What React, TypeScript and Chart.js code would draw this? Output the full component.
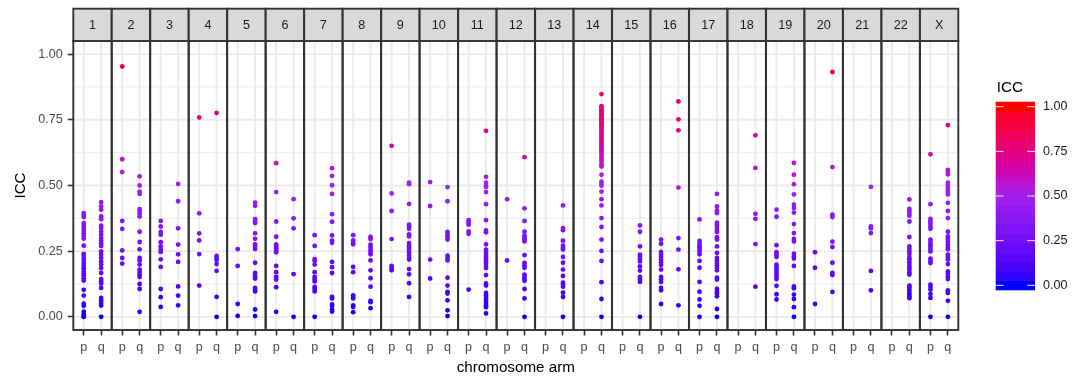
import React, { useEffect, useRef } from 'react';
import { Chart, registerables } from 'chart.js';

Chart.register(...registerables);

// ---------------- DATA ----------------
const chromosomes = ['1','2','3','4','5','6','7','8','9','10','11','12','13','14','15','16','17','18','19','20','21','22','X'];
const armLabels = ['p', 'q'];
const yTicks = [0, 0.25, 0.5, 0.75, 1];
const yMinorTicks = [0.125, 0.375, 0.625, 0.875];
const legendTicks = [0, 0.25, 0.5, 0.75, 1];

const icc_1p = [0.395, 0.388, 0.38, 0.357, 0.348, 0.338, 0.328, 0.318, 0.308, 0.298, 0.271, 0.24, 0.232, 0.222, 0.213, 0.203, 0.194, 0.185, 0.175, 0.166, 0.157, 0.147, 0.138, 0.103, 0.081, 0.05, 0.042, 0.02, 0.01, 0.0, 0.0];
const icc_1q = [0.437, 0.42, 0.408, 0.382, 0.372, 0.347, 0.338, 0.325, 0.313, 0.3, 0.29, 0.28, 0.27, 0.249, 0.237, 0.224, 0.211, 0.199, 0.186, 0.167, 0.144, 0.135, 0.127, 0.11, 0.072, 0.063, 0.053, 0.043, 0.0];
const icc_2p = [0.953, 0.6, 0.551, 0.365, 0.335, 0.253, 0.224, 0.203];
const icc_2q = [0.535, 0.5, 0.477, 0.468, 0.41, 0.401, 0.392, 0.382, 0.324, 0.285, 0.257, 0.224, 0.215, 0.199, 0.18, 0.171, 0.161, 0.152, 0.125, 0.106, 0.019];
const icc_3p = [0.365, 0.344, 0.323, 0.313, 0.284, 0.268, 0.256, 0.247, 0.219, 0.19, 0.106, 0.075, 0.038];
const icc_3q = [0.506, 0.44, 0.337, 0.275, 0.238, 0.209, 0.116, 0.081, 0.044];
const icc_4p = [0.759, 0.394, 0.318, 0.291, 0.239, 0.119];
const icc_4q = [0.776, 0.232, 0.224, 0.216, 0.201, 0.175, 0.076, 0.0];
const icc_5p = [0.258, 0.194, 0.049, 0.004];
const icc_5q = [0.435, 0.423, 0.372, 0.363, 0.357, 0.318, 0.297, 0.276, 0.268, 0.258, 0.206, 0.167, 0.159, 0.152, 0.146, 0.11, 0.104, 0.097, 0.028, 0.003];
const icc_6p = [0.585, 0.475, 0.363, 0.305, 0.276, 0.268, 0.261, 0.253, 0.246, 0.194, 0.17, 0.152, 0.142, 0.113, 0.019];
const icc_6q = [0.448, 0.375, 0.337, 0.163, 0.0];
const icc_7p = [0.311, 0.27, 0.22, 0.214, 0.199, 0.17, 0.152, 0.144, 0.135, 0.114, 0.106, 0.097, 0.0];
const icc_7q = [0.566, 0.537, 0.501, 0.468, 0.391, 0.362, 0.31, 0.29, 0.282, 0.209, 0.189, 0.167, 0.076, 0.07, 0.047, 0.041, 0.028, 0.02];
const icc_8p = [0.311, 0.291, 0.282, 0.276, 0.19, 0.17, 0.082, 0.076, 0.07, 0.044, 0.038, 0.018];
const icc_8q = [0.304, 0.296, 0.275, 0.266, 0.256, 0.247, 0.238, 0.215, 0.177, 0.147, 0.115, 0.061, 0.056, 0.033];
const icc_9p = [0.651, 0.47, 0.403, 0.296, 0.194, 0.185, 0.177];
const icc_9q = [0.511, 0.505, 0.43, 0.351, 0.344, 0.335, 0.314, 0.306, 0.281, 0.272, 0.266, 0.258, 0.251, 0.243, 0.234, 0.225, 0.218, 0.182, 0.162, 0.128, 0.076];
const icc_10p = [0.513, 0.422, 0.218, 0.146];
const icc_10q = [0.494, 0.44, 0.323, 0.315, 0.306, 0.294, 0.233, 0.224, 0.215, 0.149, 0.119, 0.095, 0.089, 0.063, 0.025, 0.003];
const icc_11p = [0.368, 0.359, 0.351, 0.325, 0.316, 0.104];
const icc_11q = [0.708, 0.533, 0.511, 0.5, 0.494, 0.475, 0.429, 0.368, 0.329, 0.322, 0.276, 0.256, 0.247, 0.238, 0.23, 0.222, 0.214, 0.205, 0.195, 0.186, 0.159, 0.127, 0.119, 0.091, 0.081, 0.072, 0.063, 0.053, 0.044, 0.037, 0.013];
const icc_12p = [0.448, 0.215];
const icc_12q = [0.608, 0.413, 0.365, 0.324, 0.309, 0.303, 0.294, 0.287, 0.235, 0.205, 0.195, 0.187, 0.161, 0.152, 0.144, 0.137, 0.106, 0.07, 0.0];
const icc_13p: number[] = [];
const icc_13q = [0.424, 0.338, 0.33, 0.29, 0.271, 0.262, 0.256, 0.228, 0.206, 0.18, 0.156, 0.13, 0.123, 0.115, 0.092, 0.076, 0.0];
const icc_14p: number[] = [];
const icc_14q = [0.848, 0.802, 0.797, 0.791, 0.786, 0.781, 0.776, 0.771, 0.766, 0.761, 0.756, 0.751, 0.746, 0.741, 0.736, 0.731, 0.726, 0.721, 0.714, 0.706, 0.698, 0.69, 0.683, 0.676, 0.668, 0.66, 0.652, 0.645, 0.637, 0.63, 0.622, 0.614, 0.605, 0.598, 0.59, 0.58, 0.572, 0.541, 0.515, 0.506, 0.499, 0.477, 0.448, 0.424, 0.376, 0.342, 0.294, 0.251, 0.213, 0.132, 0.068, 0.0];
const icc_15p: number[] = [];
const icc_15q = [0.348, 0.324, 0.268, 0.237, 0.228, 0.22, 0.211, 0.192, 0.176, 0.152, 0.142, 0.133, 0.0];
const icc_16p = [0.294, 0.278, 0.247, 0.237, 0.228, 0.218, 0.208, 0.197, 0.18, 0.152, 0.142, 0.133, 0.11, 0.101, 0.049];
const icc_16q = [0.82, 0.752, 0.71, 0.492, 0.3, 0.256, 0.181, 0.044];
const icc_17p = [0.371, 0.289, 0.281, 0.272, 0.265, 0.256, 0.248, 0.238, 0.213, 0.187, 0.133, 0.096, 0.066, 0.042, 0.0];
const icc_17q = [0.468, 0.42, 0.405, 0.395, 0.359, 0.351, 0.342, 0.332, 0.323, 0.303, 0.294, 0.268, 0.243, 0.224, 0.215, 0.205, 0.196, 0.187, 0.177, 0.149, 0.142, 0.106, 0.097, 0.089, 0.078, 0.03, 0.0];
const icc_18p: number[] = [];
const icc_18q = [0.691, 0.567, 0.392, 0.373, 0.277, 0.115];
const icc_19p = [0.408, 0.381, 0.273, 0.246, 0.237, 0.228, 0.199, 0.19, 0.18, 0.171, 0.161, 0.152, 0.144, 0.118, 0.086, 0.066];
const icc_19q = [0.586, 0.541, 0.505, 0.466, 0.427, 0.414, 0.397, 0.353, 0.319, 0.297, 0.287, 0.241, 0.23, 0.222, 0.194, 0.116, 0.109, 0.085, 0.068, 0.037, 0.0];
const icc_20p = [0.246, 0.187, 0.049];
const icc_20q = [0.932, 0.57, 0.389, 0.38, 0.286, 0.266, 0.206, 0.167, 0.159, 0.095];
const icc_21p: number[] = [];
const icc_21q = [0.495, 0.344, 0.337, 0.319, 0.175, 0.101];
const icc_22p: number[] = [];
const icc_22q = [0.447, 0.411, 0.404, 0.395, 0.385, 0.363, 0.304, 0.268, 0.259, 0.249, 0.239, 0.225, 0.218, 0.208, 0.197, 0.188, 0.18, 0.17, 0.161, 0.119, 0.113, 0.104, 0.095, 0.086, 0.078, 0.071];
const icc_Xp = [0.619, 0.429, 0.373, 0.363, 0.354, 0.344, 0.335, 0.294, 0.285, 0.276, 0.268, 0.258, 0.249, 0.222, 0.213, 0.205, 0.123, 0.114, 0.104, 0.087, 0.072, 0.0];
const icc_Xq = [0.73, 0.559, 0.552, 0.542, 0.511, 0.503, 0.494, 0.484, 0.475, 0.466, 0.434, 0.403, 0.376, 0.324, 0.306, 0.297, 0.287, 0.275, 0.266, 0.257, 0.237, 0.228, 0.218, 0.201, 0.173, 0.165, 0.154, 0.144, 0.101, 0.091, 0.061, 0.0];

const pArms = [icc_1p, icc_2p, icc_3p, icc_4p, icc_5p, icc_6p, icc_7p, icc_8p, icc_9p, icc_10p, icc_11p, icc_12p, icc_13p, icc_14p, icc_15p, icc_16p, icc_17p, icc_18p, icc_19p, icc_20p, icc_21p, icc_22p, icc_Xp];
const qArms = [icc_1q, icc_2q, icc_3q, icc_4q, icc_5q, icc_6q, icc_7q, icc_8q, icc_9q, icc_10q, icc_11q, icc_12q, icc_13q, icc_14q, icc_15q, icc_16q, icc_17q, icc_18q, icc_19q, icc_20q, icc_21q, icc_22q, icc_Xq];

// ---------------- LAYOUT / STYLE ----------------
const FONT = '"Liberation Sans", Arial, Helvetica, sans-serif';
const TICK_SIZE = 12.6;
const TITLE_SIZE = 15.2;
const PANEL_UNITS = 2.2; // discrete scale 0.4..2.6
const GAP_UNITS = 0.0115;
const STRIDE = PANEL_UNITS + GAP_UNITS;
const STRIP_TOP = 8.7;
const AREA = { left: 73.3, right: 958.3, top: 41, bottom: 330 };
const W = 1083, H = 378;

// ---------------- COLOUR (Lab interpolation, like scales::gradient2) ----------------
const toLin = (c: number) => { c /= 255; return c <= 0.04045 ? c / 12.92 : Math.pow((c + 0.055) / 1.055, 2.4); };
const toSrgb = (c: number) => { const v = c <= 0.0031308 ? 12.92 * c : 1.055 * Math.pow(c, 1 / 2.4) - 0.055; return Math.round(Math.max(0, Math.min(1, v)) * 255); };
const XN = 0.95047, YN = 1, ZN = 1.08883;
function rgbToLab(rgb: number[]) {
  const R = toLin(rgb[0]), G = toLin(rgb[1]), B = toLin(rgb[2]);
  const X = 0.4124564 * R + 0.3575761 * G + 0.1804375 * B;
  const Y = 0.2126729 * R + 0.7151522 * G + 0.072175 * B;
  const Z = 0.0193339 * R + 0.119192 * G + 0.9503041 * B;
  const f = (t: number) => t > 216 / 24389 ? Math.cbrt(t) : (24389 / 27 * t + 16) / 116;
  const fx = f(X / XN), fy = f(Y / YN), fz = f(Z / ZN);
  return [116 * fy - 16, 500 * (fx - fy), 200 * (fy - fz)];
}
function labToRgb(lab: number[]) {
  const fy = (lab[0] + 16) / 116, fx = fy + lab[1] / 500, fz = fy - lab[2] / 200;
  const inv = (t: number) => t * t * t > 216 / 24389 ? t * t * t : (116 * t - 16) / (24389 / 27);
  const X = inv(fx) * XN, Y = inv(fy) * YN, Z = inv(fz) * ZN;
  const R = 3.2404542 * X - 1.5371385 * Y - 0.4985314 * Z;
  const G = -0.969266 * X + 1.8760108 * Y + 0.041556 * Z;
  const B = 0.0556434 * X - 0.2040259 * Y + 1.0572252 * Z;
  return `rgb(${toSrgb(R)},${toSrgb(G)},${toSrgb(B)})`;
}
const LOW = rgbToLab([0, 0, 255]);
const MID = rgbToLab([160, 32, 240]);
const HIGH = rgbToLab([255, 0, 0]);
function iccColour(v: number) {
  const t = Math.max(0, Math.min(1, v));
  let a: number[], b: number[], u: number;
  if (t <= 0.5) { a = LOW; b = MID; u = t / 0.5; } else { a = MID; b = HIGH; u = (t - 0.5) / 0.5; }
  return labToRgb([a[0] + (b[0] - a[0]) * u, a[1] + (b[1] - a[1]) * u, a[2] + (b[2] - a[2]) * u]);
}

// ---------------- POINTS ----------------
const armX = (panel: number, arm: number) => panel * STRIDE + 1 + arm;
const points: { x: number; y: number }[] = [];
chromosomes.forEach((_, i) => {
  pArms[i].forEach(v => points.push({ x: armX(i, 0), y: v }));
  qArms[i].forEach(v => points.push({ x: armX(i, 1), y: v }));
});
const armTicks: number[] = [];
chromosomes.forEach((_, i) => { armTicks.push(armX(i, 0)); armTicks.push(armX(i, 1)); });

const facetPlugin = {
  id: 'facets',
  beforeDatasetsDraw(chart: any) {
    const { ctx, chartArea, scales } = chart;
    const x = scales.x, y = scales.y;
    ctx.save();
    chromosomes.forEach((_, i) => {
      const l = x.getPixelForValue(i * STRIDE + 0.4);
      const r = x.getPixelForValue(i * STRIDE + 2.6);
      ctx.save();
      ctx.beginPath();
      ctx.rect(l, chartArea.top, r - l, chartArea.bottom - chartArea.top);
      ctx.clip();
      ctx.strokeStyle = '#EBEBEB';
      ctx.lineWidth = 0.95;
      yMinorTicks.forEach(v => {
        const py = y.getPixelForValue(v);
        ctx.beginPath(); ctx.moveTo(l, py); ctx.lineTo(r, py); ctx.stroke();
      });
      ctx.lineWidth = 1.9;
      yTicks.forEach(v => {
        const py = y.getPixelForValue(v);
        ctx.beginPath(); ctx.moveTo(l, py); ctx.lineTo(r, py); ctx.stroke();
      });
      [0, 1].forEach(a => {
        const px = x.getPixelForValue(armX(i, a));
        ctx.beginPath(); ctx.moveTo(px, chartArea.top); ctx.lineTo(px, chartArea.bottom); ctx.stroke();
      });
      ctx.restore();
    });
    ctx.restore();
  },
  afterDatasetsDraw(chart: any) {
    const { ctx, chartArea, scales } = chart;
    const x = scales.x;
    ctx.save();
    // panel borders and strips
    chromosomes.forEach((name, i) => {
      const l = x.getPixelForValue(i * STRIDE + 0.4);
      const r = x.getPixelForValue(i * STRIDE + 2.6);
      ctx.strokeStyle = '#333333';
      ctx.lineWidth = 1.9;
      ctx.strokeRect(l, chartArea.top, r - l, chartArea.bottom - chartArea.top);
      ctx.fillStyle = '#D9D9D9';
      ctx.fillRect(l, STRIP_TOP, r - l, chartArea.top - STRIP_TOP);
      ctx.strokeRect(l, STRIP_TOP, r - l, chartArea.top - STRIP_TOP);
      ctx.fillStyle = '#1A1A1A';
      ctx.font = `${TICK_SIZE}px ${FONT}`;
      ctx.textAlign = 'center';
      ctx.textBaseline = 'middle';
      ctx.fillText(name, (l + r) / 2, (STRIP_TOP + chartArea.top) / 2 + 0.5);
    });
    // axis titles
    ctx.fillStyle = '#000000';
    ctx.font = `${TITLE_SIZE}px ${FONT}`;
    ctx.textAlign = 'center';
    ctx.textBaseline = 'middle';
    ctx.fillText('chromosome arm', (chartArea.left + chartArea.right) / 2, 368);
    ctx.save();
    ctx.translate(21, (chartArea.top + chartArea.bottom) / 2);
    ctx.rotate(-Math.PI / 2);
    ctx.fillText('ICC', 0, 0);
    ctx.restore();
    // colour bar legend
    const bx = 995.7, bw = 39.3, by = 102, bh = 188, nbin = 20;
    for (let k = 0; k < nbin; k++) {
      ctx.fillStyle = iccColour(k / (nbin - 1));
      const top = by + bh - (k + 1) * bh / nbin;
      ctx.fillRect(bx, top - 0.3, bw, bh / nbin + 0.6);
    }
    ctx.strokeStyle = 'rgba(255,255,255,0.9)';
    ctx.lineWidth = 1;
    ctx.font = `${TICK_SIZE}px ${FONT}`;
    ctx.textAlign = 'left';
    ctx.textBaseline = 'middle';
    legendTicks.forEach(v => {
      const ty = by + bh - (bh / (2 * nbin) + v * (nbin - 1) / nbin * bh);
      ctx.beginPath(); ctx.moveTo(bx, ty); ctx.lineTo(bx + bw / 5, ty); ctx.stroke();
      ctx.beginPath(); ctx.moveTo(bx + bw - bw / 5, ty); ctx.lineTo(bx + bw, ty); ctx.stroke();
      ctx.fillStyle = '#1A1A1A';
      ctx.fillText(v.toFixed(2), 1043, ty);
    });
    ctx.fillStyle = '#000000';
    ctx.font = `${TITLE_SIZE}px ${FONT}`;
    ctx.fillText('ICC', 996.7, 87.5);
    ctx.restore();
  },
};

export default function App() {
  const ref = useRef<HTMLCanvasElement | null>(null);
  useEffect(() => {
    if (!ref.current) return;
    const chart = new Chart(ref.current, {
      type: 'scatter',
      data: {
        datasets: [{
          data: points,
          pointRadius: 2.4,
          pointBorderWidth: 0,
          pointBackgroundColor: (c: any) => iccColour(c.raw ? c.raw.y : 0),
          pointBorderColor: 'rgba(0,0,0,0)',
        }],
      },
      options: {
        animation: false,
        responsive: false,
        devicePixelRatio: 1,
        layout: { padding: { left: 0, right: W - AREA.right, top: AREA.top, bottom: 0 } },
        plugins: { legend: { display: false }, tooltip: { enabled: false } },
        scales: {
          x: {
            type: 'linear',
            min: 0.4,
            max: (chromosomes.length - 1) * STRIDE + 2.6,
            afterFit: (s: any) => { s.height = H - AREA.bottom; },
            afterBuildTicks: (s: any) => { s.ticks = armTicks.map(v => ({ value: v })); },
            ticks: {
              autoSkip: false, maxRotation: 0, minRotation: 0,
              color: '#4D4D4D', padding: 4,
              font: { family: FONT, size: TICK_SIZE },
              callback: (_v: any, idx: number) => armLabels[idx % 2],
            },
            grid: { drawOnChartArea: false, drawTicks: true, tickLength: 5.5, tickColor: '#333333', tickWidth: 1.6, color: '#333333' },
            border: { display: false },
          },
          y: {
            type: 'linear',
            min: -0.05,
            max: 1.05,
            afterFit: (s: any) => { s.width = AREA.left; },
            afterBuildTicks: (s: any) => { s.ticks = yTicks.map(v => ({ value: v })); },
            ticks: {
              color: '#4D4D4D', padding: 5,
              font: { family: FONT, size: TICK_SIZE },
              callback: (v: any) => Number(v).toFixed(2),
            },
            grid: { drawOnChartArea: false, drawTicks: true, tickLength: 5.5, tickColor: '#333333', tickWidth: 1.6, color: '#333333' },
            border: { display: false },
          },
        },
      },
      plugins: [facetPlugin],
    } as any);
    return () => chart.destroy();
  }, []);
  return (
    <div style={{ position: 'fixed', left: 0, top: 0, width: W, height: H, background: '#ffffff' }}>
      <canvas ref={ref} width={W} height={H} style={{ width: W, height: H, display: 'block' }} />
    </div>
  );
}
